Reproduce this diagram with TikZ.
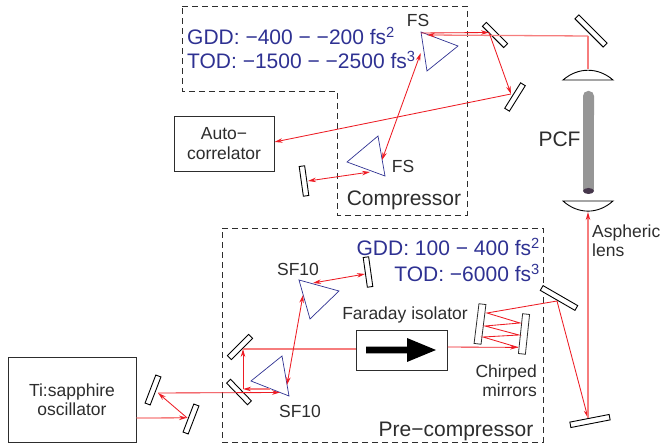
\documentclass[tikz,border=0pt]{standalone}
\usepackage{fontspec}
\setmainfont{Liberation Sans}
\usetikzlibrary{arrows.meta}
\definecolor{beamred}{RGB}{237,28,36}
\definecolor{beampink}{RGB}{246,125,125}
\definecolor{prismblue}{RGB}{46,49,146}
\definecolor{inkgray}{RGB}{45,45,45}
\definecolor{fibergray}{RGB}{150,150,150}
\definecolor{fiberend}{RGB}{70,55,75}
\tikzset{
	mirror/.style={draw=black,line width=0.9pt,fill=white,inner sep=0pt,minimum height=5.5pt,minimum width=30pt},
	longmirror/.style={mirror,minimum width=40pt},
	chirped/.style={longmirror,minimum height=7pt,draw=inkgray,line width=0.8pt},
	lens/.style={draw=black,line width=0.9pt,fill=white},
	prism/.style={draw=prismblue,line width=0.7pt},
	beam/.style={draw=beamred,line width=0.85pt},
	pinkbeam/.style={draw=beampink,line width=1.3pt},
	hit/.style={-{Stealth[length=8pt,width=4.5pt]}},
	pinkhit/.style={-{Stealth[length=8pt,width=4.5pt,color=beamred]}},
	bothhit/.style={{Stealth[length=8pt,width=4.5pt]}-{Stealth[length=8pt,width=4.5pt]}},
	box/.style={draw=inkgray,line width=0.9pt,fill=white,inner sep=0pt,align=center,text=inkgray,font=\fontsize{17.5}{19.5}\selectfont},
	region/.style={draw=inkgray,line width=0.8pt,dash pattern=on 6pt off 4pt},
	small/.style={text=inkgray,inner sep=0pt,align=center,font=\fontsize{17.5}{19.5}\selectfont},
	large/.style={text=inkgray,inner sep=0pt,font=\fontsize{21}{23}\selectfont},
	disp/.style={text=prismblue,inner sep=0pt,font=\fontsize{21}{24}\selectfont},
}
\begin{document}
\begin{tikzpicture}[x=1pt,y=-1pt]
	\useasboundingbox (0,0) rectangle (662,443);

	\draw[region] (182,6) -- (467,6) -- (467,215) -- (337,215) -- (337,91) -- (182,91) -- cycle;
	\draw[region] (222,228) -- (543,228) -- (543,442) -- (222,442) -- cycle;

	\node[disp,anchor=west] (gddTop) at (187,36) {GDD: −400 − −200 fs\textsuperscript{2}};
	\node[disp,anchor=west] (todTop) at (187,60) {TOD: −1500 − −2500 fs\textsuperscript{3}};
	\node[disp,anchor=east] (gddPre) at (540,247) {GDD: 100 − 400 fs\textsuperscript{2}};
	\node[disp,anchor=east] (todPre) at (540,273) {TOD: −6000 fs\textsuperscript{3}};

	\node[box,minimum width=100pt,minimum height=55pt] (auto) at (224,143.5) {Auto−\\correlator};
	\node[box,minimum width=128pt,minimum height=85pt] (osc) at (72,399.5) {Ti:sapphire\\oscillator};
	\node[box,minimum width=91pt,minimum height=40pt] (faraday) at (401.5,350) {};
	\fill[black] (366,346.7) -- (407,346.7) -- (407,338) -- (436,350) -- (407,362) -- (407,353.3) -- (366,353.3) -- cycle;

	\node[mirror,rotate=-45] (mFS) at (495,35) {};
	\node[longmirror,rotate=-45] (mFold) at (591,31) {};
	\node[mirror,rotate=58] (mOut) at (515,97) {};
	\node[mirror,rotate=-82] (mComp) at (304,181) {};
	\node[mirror,rotate=69] (mOscA) at (153,390) {};
	\node[mirror,rotate=69] (mOscB) at (191,419) {};
	\node[mirror,rotate=-46] (mPreA) at (239,392) {};
	\node[mirror,rotate=45] (mPreB) at (240,347) {};
	\node[mirror,rotate=-82] (mPreC) at (368,272) {};
	\node[chirped,rotate=84] (mChirpR) at (524,334) {};
	\node[chirped,rotate=83] (mChirpL) at (480,324) {};
	\node[longmirror,rotate=-30] (mTurn) at (559,298) {};
	\node[longmirror,rotate=11] (mBottom) at (590,421) {};

	\draw[prism] (421,32) -- (458,46) -- (427,71) -- cycle;
	\draw[prism] (378,136) -- (347,162) -- (385,176) -- cycle;
	\draw[prism] (251,381) -- (282,356) -- (289,396) -- cycle;
	\draw[prism] (299,280) -- (339,291) -- (310,319) -- cycle;

	\draw[lens] (563,80) .. controls (578,67) and (598,67) .. (613,80) -- cycle;
	\draw[lens] (563,201) .. controls (578,214.5) and (598,214.5) .. (613,201) -- cycle;
	\fill[fibergray,rounded corners=5pt] (583,91) rectangle (594,120);
	\fill[fibergray] (583,100) rectangle (594,191);
	\fill[fiberend] (588.5,191) ellipse (5.5pt and 3pt);

	\coordinate (fsIn) at (421,33);
	\coordinate (fsBack) at (427,35);
	\coordinate (fsHit) at (489,32.5);
	\coordinate (foldHit) at (588,36);
	\coordinate (lensTop) at (588,69);
	\coordinate (lensLow) at (588,212);
	\coordinate (bottomHit) at (588,418);
	\coordinate (outHit) at (511,94);
	\coordinate (fsA) at (420.7,53);
	\coordinate (fsB) at (382,160);
	\coordinate (fsC) at (370,172);
	\coordinate (compHit) at (308,181);
	\coordinate (oscOut) at (136.5,418);
	\coordinate (oscBHit) at (187,417.8);
	\coordinate (oscAHit) at (158,393);
	\coordinate (sfIn) at (280,392.5);
	\coordinate (sfBack) at (270,389);
	\coordinate (preAHit) at (243,389);
	\coordinate (preBHit) at (243,349);
	\coordinate (sfA) at (303,295);
	\coordinate (sfB) at (287,385);
	\coordinate (sfC) at (313,283);
	\coordinate (preCHit) at (365,274);
	\coordinate (zigA) at (518,347.4);
	\coordinate (zigB) at (483,337);
	\coordinate (zigC) at (519,335);
	\coordinate (zigD) at (485,326);
	\coordinate (zigE) at (520,323);
	\coordinate (zigF) at (487,313);
	\coordinate (turnHit) at (557,301);
	\coordinate (autoHit) at (274.5,142);
	\coordinate (faradayOut) at (447.5,347);

	\draw[beam,hit] (fsIn) -- (fsHit);
	\draw[pinkbeam] (foldHit) -- (lensTop);
	\draw[pinkbeam,pinkhit] (foldHit) -- (fsBack);
	\draw[beam,hit] (fsHit) -- (outHit);
	\draw[beam,hit] (outHit) -- (autoHit);
	\draw[beam,bothhit] (fsA) -- (fsB);
	\draw[beam,bothhit] (fsC) -- (compHit);
	\draw[pinkbeam,pinkhit] (oscOut) -- (oscBHit);
	\draw[beam,hit] (oscBHit) -- (oscAHit);
	\draw[beam,hit] (oscAHit) -- (sfIn);
	\draw[pinkbeam,pinkhit] (sfBack) -- (preAHit);
	\draw[beam,hit] (preAHit) -- (preBHit);
	\draw[pinkbeam] (preBHit) -- (faraday.west |- preBHit);
	\draw[beam,bothhit] (sfA) -- (sfB);
	\draw[beam,bothhit] (sfC) -- (preCHit);
	\draw[beam,hit] (faradayOut) -- (zigA);
	\draw[beam] (zigA) -- (zigB) -- (zigC) -- (zigD) -- (zigE) -- (zigF) -- (turnHit);
	\draw[beam,hit] (turnHit) -- (bottomHit);
	\draw[pinkbeam,pinkhit] (bottomHit) -- (lensLow);

	\node[small] (fsUpper) at (418,20) {FS};
	\node[small] (fsLower) at (403,166) {FS};
	\node[large] (compressor) at (404,200) {Compressor};
	\node[large] (pcf) at (559.5,139) {PCF};
	\node[small,anchor=west] (aspheric) at (592,232.5) {Aspheric};
	\node[small,anchor=west] (lensText) at (592,250.5) {lens};
	\node[small] (sfUpper) at (298,269) {SF10};
	\node[small] (sfLower) at (300,411) {SF10};
	\node[small] (isolator) at (405,315) {Faraday isolator};
	\node[small,align=right,anchor=east] (chirpedText) at (537,380.5) {Chirped\\mirrors};
	\node[large] (precomp) at (456,431) {Pre−compressor};
\end{tikzpicture}
\end{document}
